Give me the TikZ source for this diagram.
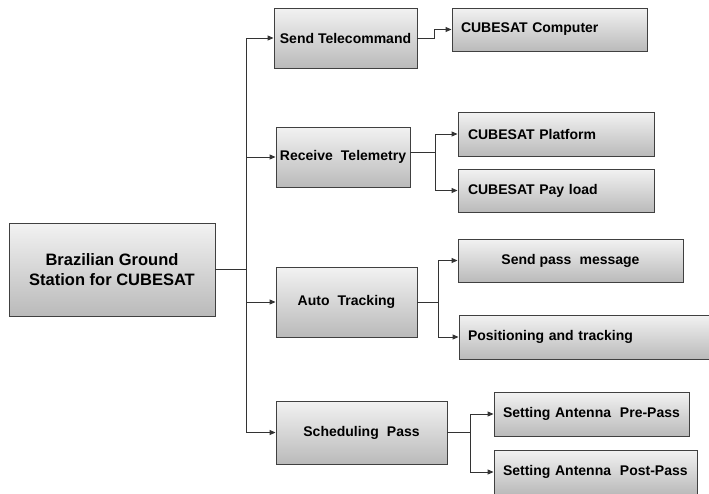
\documentclass[tikz,border=0pt]{standalone}
\usepackage{fontspec}
\setmainfont{Liberation Sans}
\usetikzlibrary{arrows.meta,shadows}
\definecolor{edgegray}{HTML}{404040}
\definecolor{topgray}{HTML}{F2F2F2}
\definecolor{botgray}{HTML}{BABABA}
\definecolor{linegray}{HTML}{333333}
\begin{document}
\begin{tikzpicture}[x=1pt,y=-1pt,
  box/.style={draw=edgegray, line width=0.9pt, top color=topgray, bottom color=botgray,
    drop shadow={shadow xshift=1.2pt, shadow yshift=-1.2pt, fill=black, opacity=0.3},
    inner sep=0pt, font=\bfseries\fontsize{14}{17}\selectfont, align=center},
  lbox/.style={box, align=left, inner xsep=#1pt, inner ysep=0pt},
  conn/.style={draw=linegray, line width=0.9pt},
  arr/.style={conn, -{Triangle[length=6pt,width=5pt]}}]
\useasboundingbox (0,0) rectangle (709,493);
\begin{scope}
\clip (0,0) rectangle (709,493);
% main
\node[box, minimum width=206pt, minimum height=93pt, font=\bfseries\fontsize{16.5}{19.5}\selectfont] (main) at (112,269.5) {Brazilian Ground\\Station for CUBESAT};
% level 1
\node[box, minimum width=143pt, minimum height=60pt] (ST) at (345.5,38) {Send Telecommand};
\node[box, minimum width=134pt, minimum height=60pt] (RT) at (343,157) {Receive\hspace{0.3em} Telemetry};
\node[box, minimum width=141pt, minimum height=70pt] (AT) at (346.5,302) {Auto\hspace{0.3em} Tracking};
\node[box, minimum width=171pt, minimum height=63pt] (SP) at (361.5,432.5) {Scheduling\hspace{0.3em} Pass};
% level 2
\node[lbox=9, text width=177pt, minimum height=43pt] (CC) at (549.5,29.5) {CUBESAT Computer};
\node[lbox=10, text width=176pt, minimum height=44pt] (CP) at (556,134) {CUBESAT Platform};
\node[lbox=10, text width=176pt, minimum height=43pt] (CPL) at (556,190.5) {CUBESAT Pay load};
\node[box, minimum width=225pt, minimum height=43pt] (SPM) at (570.5,260.5) {Send pass\hspace{0.3em} message};
\node[lbox=9, text width=243pt, minimum height=44pt] (PT) at (589.5,337) {Positioning and tracking};
\node[lbox=9, text width=177pt, minimum height=44pt] (PRE) at (591.5,414) {Setting Antenna\hspace{0.3em} Pre-Pass};
\node[lbox=9, text width=185pt, minimum height=44pt] (POST) at (595.5,472) {Setting Antenna\hspace{0.3em} Post-Pass};
% connectors
\draw[conn] (main.east) -- ++(31,0) coordinate (j0);
\draw[arr] (j0) |- (ST.west);
\draw[arr] (j0) |- (RT.west);
\draw[arr] (j0) |- (AT.west);
\draw[arr] (j0) |- (SP.west);
\draw[arr] (ST.east) -- ++(17,0) |- (CC.west);
\draw[conn] ([yshift=5pt]RT.east) -- ++(25,0) coordinate (j2);
\draw[arr] (j2) |- (CP.west);
\draw[arr] (j2) |- (CPL.west);
\draw[conn] (AT.east) -- ++(21,0) coordinate (j3);
\draw[arr] (j3) |- (SPM.west);
\draw[arr] (j3) |- (PT.west);
\draw[conn] (SP.east) -- ++(23,0) coordinate (j4);
\draw[arr] (j4) |- (PRE.west);
\draw[arr] (j4) |- (POST.west);
\end{scope}
\end{tikzpicture}
\end{document}
